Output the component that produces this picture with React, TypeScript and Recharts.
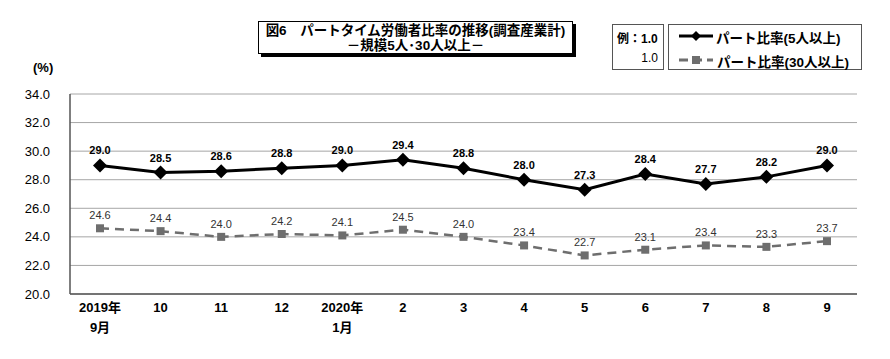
import React from "react";
import { LineChart, Line, XAxis, YAxis, CartesianGrid, LabelList } from "recharts";

const months = ["2019年\n9月", "10", "11", "12", "2020年\n1月", "2", "3", "4", "5", "6", "7", "8", "9"];
const part5 = [29.0, 28.5, 28.6, 28.8, 29.0, 29.4, 28.8, 28.0, 27.3, 28.4, 27.7, 28.2, 29.0];
const part30 = [24.6, 24.4, 24.0, 24.2, 24.1, 24.5, 24.0, 23.4, 22.7, 23.1, 23.4, 23.3, 23.7];
const yTicks = [20, 22, 24, 26, 28, 30, 32, 34];

const data = months.map((m, i) => ({ month: m, p5: part5[i], p30: part30[i] }));

const FONT = "'Liberation Sans', 'Noto Sans CJK JP', sans-serif";
const GRAY = "#6e6e6e";

function Diamond(props: any) {
  const { cx, cy } = props;
  if (cx == null || cy == null) return null;
  const r = 7;
  return <path d={`M${cx - r},${cy} L${cx},${cy - r} L${cx + r},${cy} L${cx},${cy + r} Z`} fill="#000" />;
}

function Square(props: any) {
  const { cx, cy } = props;
  if (cx == null || cy == null) return null;
  const s = 8;
  return <rect x={cx - s / 2} y={cy - s / 2} width={s} height={s} fill={GRAY} />;
}

function MonthTick(props: any) {
  const { x, y, payload } = props;
  const lines = String(payload.value).split("\n");
  return (
    <text x={x} y={y} textAnchor="middle" fontFamily={FONT} fontSize={13} fontWeight="bold" fill="#000">
      {lines.map((l, i) => (
        <tspan key={i} x={x} dy={i === 0 ? 10 : 20}>{l}</tspan>
      ))}
    </text>
  );
}

export default function App() {
  return (
    <div style={{ position: "absolute", left: 0, top: 0, width: 890, height: 359, background: "#fff", fontFamily: FONT }}>
      <LineChart width={890} height={359} data={data} margin={{ top: 94, right: 33, bottom: 15, left: 10 }}>
        <CartesianGrid vertical={false} stroke="#a6a6a6" strokeWidth={1} />
        <XAxis
          dataKey="month"
          height={50}
          padding={{ left: 30, right: 30 }}
          axisLine={{ stroke: "#555", strokeWidth: 1.5 }}
          tickLine={false}
          tick={<MonthTick />}
          interval={0}
        />
        <XAxis xAxisId="top" orientation="top" dataKey="month" height={0} axisLine={{ stroke: "#555", strokeWidth: 1.5 }} tick={false} tickLine={false} />
        <YAxis
          domain={[20, 34]}
          ticks={yTicks}
          width={60}
          axisLine={{ stroke: "#555", strokeWidth: 1.5 }}
          tickLine={false}
          tickMargin={14}
          tickFormatter={(v: number) => v.toFixed(1)}
          tick={{ fontFamily: FONT, fontSize: 13, fill: "#000" }}
        />
        <YAxis yAxisId="right" orientation="right" domain={[20, 34]} width={0} axisLine={{ stroke: "#555", strokeWidth: 1.5 }} tick={false} tickLine={false} />
        <Line
          dataKey="p30"
          stroke={GRAY}
          strokeWidth={2.5}
          strokeDasharray="9 6"
          dot={<Square />}
          isAnimationActive={false}
        >
          <LabelList
            dataKey="p30"
            position="top"
            offset={9}
            formatter={(v: any) => Number(v).toFixed(1)}
            style={{ fontFamily: FONT, fontSize: 11, fill: "#333" }}
          />
        </Line>
        <Line
          dataKey="p5"
          stroke="#000"
          strokeWidth={3}
          dot={<Diamond />}
          isAnimationActive={false}
        >
          <LabelList
            dataKey="p5"
            position="top"
            offset={11}
            formatter={(v: any) => Number(v).toFixed(1)}
            style={{ fontFamily: FONT, fontSize: 11, fontWeight: "bold", fill: "#000" }}
          />
        </Line>
      </LineChart>

      <div style={{ position: "absolute", left: 33, top: 60, fontSize: 13, fontWeight: "bold" }}>(%)</div>

      <div
        style={{
          position: "absolute",
          left: 258,
          top: 21,
          width: 315,
          height: 33,
          border: "1px solid #000",
          boxShadow: "3px 3px 0 #000",
          fontSize: 13.5,
          fontWeight: "bold",
          textAlign: "center",
          lineHeight: "15px",
          paddingTop: 1,
          boxSizing: "border-box",
          whiteSpace: "nowrap",
        }}
      >
        <div>図6　パートタイム労働者比率の推移(調査産業計)</div>
        <div>－規模5人･30人以上－</div>
      </div>

      <div
        style={{
          position: "absolute",
          left: 612,
          top: 24,
          width: 52,
          height: 46,
          border: "1px solid #555",
          boxSizing: "border-box",
          fontSize: 12,
        }}
      >
        <div style={{ position: "absolute", left: 4, top: 4, fontWeight: "bold" }}>例：1.0</div>
        <div style={{ position: "absolute", right: 5, top: 26 }}>1.0</div>
      </div>

      <div
        style={{
          position: "absolute",
          left: 668,
          top: 24,
          width: 194,
          height: 46,
          border: "1px solid #555",
          boxSizing: "border-box",
          fontSize: 13.5,
          fontWeight: "bold",
          whiteSpace: "nowrap",
        }}
      >
        <svg style={{ position: "absolute", left: 10, top: 4 }} width={40} height={40}>
          <line x1={0} y1={7} x2={34} y2={7} stroke="#000" strokeWidth={3} />
          <path d="M24,7 L29,2 L34,7 L29,12 Z" fill="#000" transform="translate(-12,0)" />
          <line x1={0} y1={31} x2={34} y2={31} stroke={GRAY} strokeWidth={3} strokeDasharray="9 5" />
          <rect x={13} y={27} width={8} height={8} fill={GRAY} />
        </svg>
        <div style={{ position: "absolute", left: 47, top: 2 }}>パート比率(5人以上)</div>
        <div style={{ position: "absolute", left: 48, top: 26 }}>パート比率(30人以上)</div>
      </div>
    </div>
  );
}
